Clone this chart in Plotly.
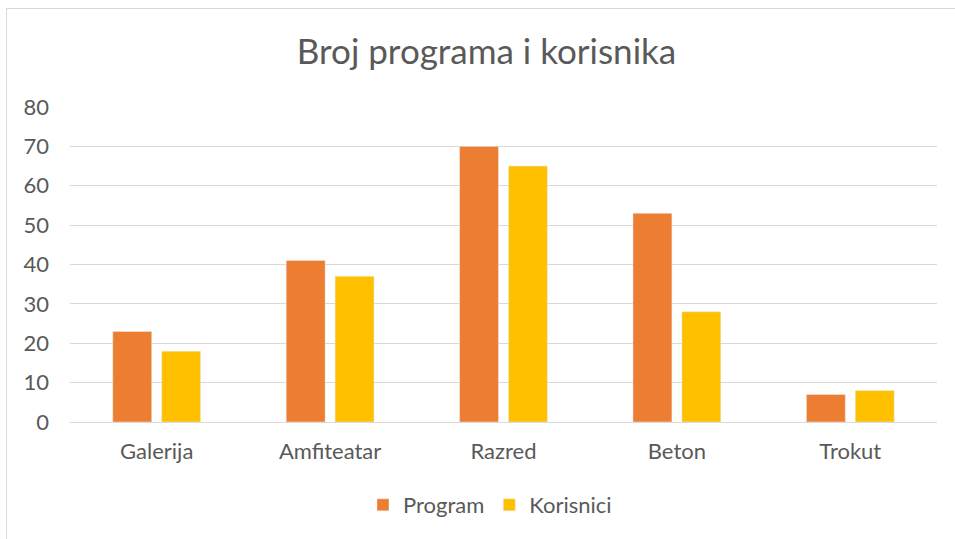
import plotly.graph_objects as go

categories = ["Galerija", "Amfiteatar", "Razred", "Beton", "Trokut"]
program = [23, 41, 70, 53, 7]
korisnici = [18, 37, 65, 28, 8]
y_ticks = [0, 10, 20, 30, 40, 50, 60, 70, 80]

FONT = "Lato, 'Open Sans', sans-serif"
TXT = "#595959"

fig = go.Figure()
fig.add_trace(go.Bar(x=categories, y=program, name="Program", marker_color="#ED7D31"))
fig.add_trace(go.Bar(x=categories, y=korisnici, name="Korisnici", marker_color="#FFC000"))

W, H = 955, 539
L, R, T, B = 70, 18, 107, 117
pw, ph = W - L - R, H - T - B

def px_x(x):
    return (x - L) / pw

def px_y(y):
    return (H - B - y) / ph

fig.update_layout(
    width=W, height=H,
    margin=dict(l=L, r=R, t=T, b=B),
    paper_bgcolor="white", plot_bgcolor="white",
    barmode="group", bargap=0.436, bargroupgap=0.204,
    title=dict(text="Broj programa i korisnika", x=486.5 / W, xref="container",
               y=1 - 52 / H, yref="container", xanchor="center", yanchor="middle",
               font=dict(family=FONT, size=35, color=TXT)),
    font=dict(family=FONT, color=TXT, size=22),
    legend=dict(orientation="h", x=px_x(490), y=px_y(505), xanchor="center", yanchor="middle",
                font=dict(family=FONT, size=22, color=TXT), itemwidth=30, traceorder="normal"),
    xaxis=dict(showgrid=False, showline=True, linecolor="#D9D9D9", linewidth=1,
               ticks="", ticklabelstandoff=10, tickfont=dict(size=22, color=TXT)),
    yaxis=dict(range=[0, 80], tickvals=y_ticks, showgrid=True, gridcolor="#D9D9D9",
               gridwidth=1, zeroline=False, showline=False, ticks="",
               ticklabelstandoff=20, tickfont=dict(size=22, color=TXT)),
    showlegend=True,
    shapes=[
        dict(type="line", xref="paper", yref="paper", x0=px_x(6.5), x1=px_x(6.5),
             y0=px_y(8), y1=px_y(545), line=dict(color="#D9D9D9", width=1)),
        dict(type="line", xref="paper", yref="paper", x0=px_x(6.5), x1=px_x(960),
             y0=px_y(8.5), y1=px_y(8.5), line=dict(color="#D9D9D9", width=1)),
    ],
)

fig.write_html("out.html", config={"displayModeBar": False},
               post_script="document.body.style.margin='0';document.body.style.overflow='hidden';")
